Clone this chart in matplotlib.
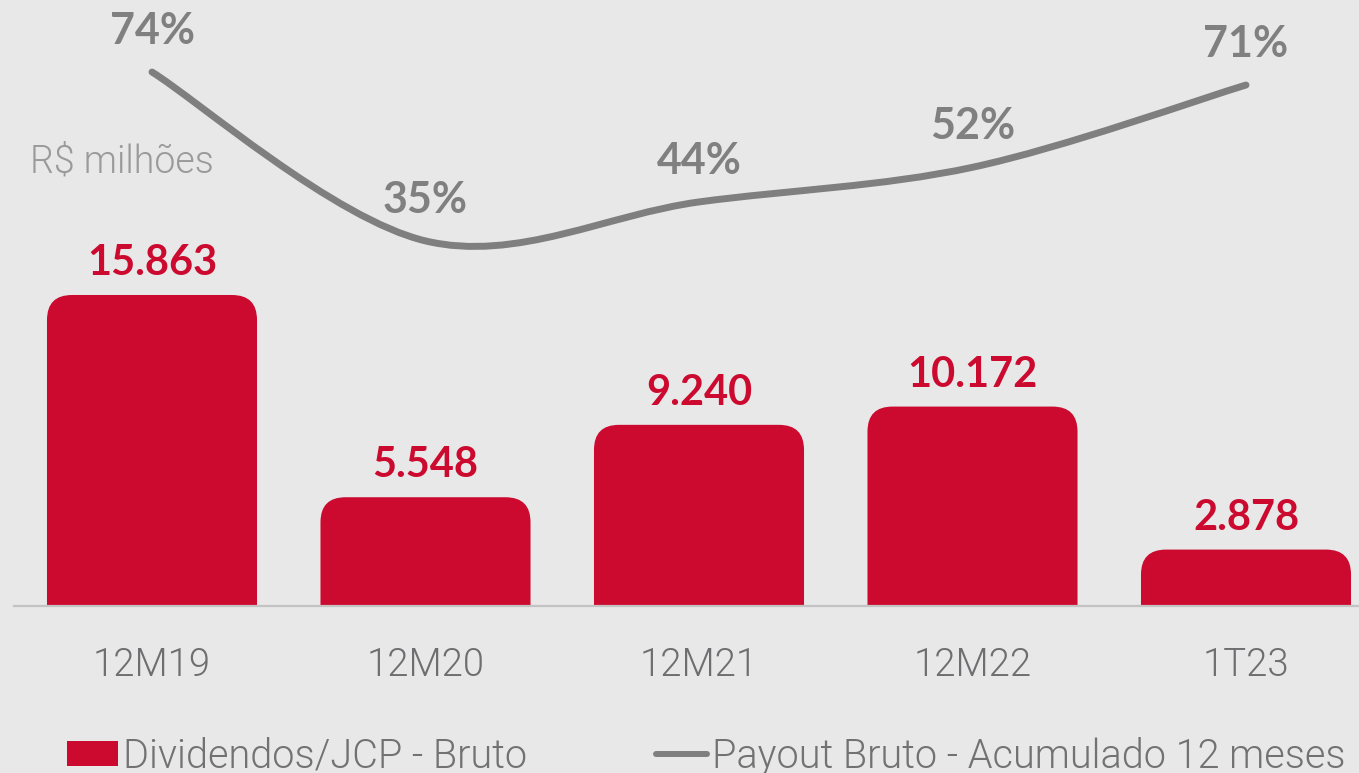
import matplotlib
matplotlib.use("Agg")
import matplotlib.pyplot as plt
from matplotlib.patches import FancyBboxPatch, PathPatch, Patch
from matplotlib.lines import Line2D
from matplotlib.path import Path
import numpy as np

categories = ["12M19", "12M20", "12M21", "12M22", "1T23"]
dividends = [15863, 5548, 9240, 10172, 2878]
dividend_labels = ["15.863", "5.548", "9.240", "10.172", "2.878"]
payout = [74, 35, 44, 52, 71]
payout_labels = ["74%", "35%", "44%", "52%", "71%"]
unit_label = "R$ milhões"
legend_bar = "Dividendos/JCP - Bruto"
legend_line = "Payout Bruto - Acumulado 12 meses"

RED = "#CC0A2F"
GRAY_LINE = "#7F7F7F"
BG = "#E8E8E8"
FONT = "Lato"
LIGHT_FONT = "Roboto"
LIGHT_W = 300

W, H = 1359, 773
fig = plt.figure(figsize=(W / 100, H / 100), dpi=100, facecolor=BG)
base_px = 606
ax = fig.add_axes([0, (H - base_px) / H, 1, base_px / H])
ax.set_facecolor(BG)

x = np.arange(len(categories))
xmin, xmax = -152 / 273.5, (W - 152) / 273.5
ymax = 30909
ax.set_xlim(xmin, xmax)
ax.set_ylim(0, ymax)

px_x = W / (xmax - xmin)
px_y = base_px / ymax
r_px = 25
rx = r_px / px_x
ry = r_px / px_y

bars = ax.bar(x, dividends, width=0.768, color=RED)
for rect in bars:
    x0, w, h = rect.get_x(), rect.get_width(), rect.get_height()
    rect.set_visible(False)
    p = FancyBboxPatch((x0, -ry), w, h + ry,
                       boxstyle=f"round,pad=0,rounding_size={rx}",
                       mutation_aspect=ry / rx, facecolor=RED,
                       edgecolor="none", clip_on=True, zorder=2)
    ax.add_patch(p)

for xi, v, lab in zip(x, dividends, dividend_labels):
    ax.annotate(lab, (xi, v), xytext=(0, 23), textcoords="offset points",
                ha="center", va="center", fontsize=30, fontweight="bold",
                color=RED, family=FONT)

for s in ["top", "left", "right"]:
    ax.spines[s].set_visible(False)
ax.spines["bottom"].set_color("#C3C3C3")
ax.spines["bottom"].set_linewidth(1.6)
ax.spines["bottom"].set_bounds(-0.505, xmax)
ax.set_yticks([])
ax.set_xticks(x)
ax.set_xticklabels(categories, fontsize=27.5, color="#6E6E70", family=LIGHT_FONT,
                   fontweight=LIGHT_W)
ax.tick_params(axis="x", length=0, pad=29.5)

# line on twin axis
ax2 = ax.twinx()
ax2.set_ylim(-49.3, 90.63)
ax2.set_xlim(xmin, xmax)
ax2.axis("off")

pts = np.column_stack([x, payout]).astype(float)
n = len(pts)
verts = [tuple(pts[0])]
codes = [Path.MOVETO]
for i in range(n - 1):
    p0 = pts[max(i - 1, 0)]
    p1 = pts[i]
    p2 = pts[i + 1]
    p3 = pts[min(i + 2, n - 1)]
    c1 = p1 + (p2 - p0) / 6
    c2 = p2 - (p3 - p1) / 6
    verts += [tuple(c1), tuple(c2), tuple(p2)]
    codes += [Path.CURVE4] * 3
path = Path(verts, codes)
ax2.add_patch(PathPatch(path, fill=False, edgecolor=GRAY_LINE, lw=5,
                        capstyle="round", joinstyle="round", zorder=3))

for xi, v, lab in zip(x, payout, payout_labels):
    ax2.annotate(lab, (xi, v), xytext=(0, 29.5), textcoords="offset points",
                 ha="center", va="center", fontsize=31, fontweight="bold",
                 color="#808080", family=FONT)

fig.text(30 / W, 1 - 162 / H, unit_label, fontsize=27, color="#9A9A9A",
         family=LIGHT_FONT, fontweight=LIGHT_W, ha="left", va="center")

# legends
h1 = Patch(facecolor=RED, edgecolor="none")
h2 = Line2D([], [], color=GRAY_LINE, lw=4.3, solid_capstyle="round")
common = dict(frameon=False, handletextpad=0.12,
              borderpad=0, borderaxespad=0, handlelength=1.3,
              handleheight=0.58, loc="center left",
              prop={"family": LIGHT_FONT, "weight": LIGHT_W, "size": 28.5})
leg1 = fig.legend([h1], [legend_bar], bbox_to_anchor=(67 / W, 1 - 756 / H),
                  **common)
leg2 = fig.legend([h2], [legend_line], bbox_to_anchor=(656 / W, 1 - 756 / H),
                  **common)
for leg in (leg1, leg2):
    for t in leg.get_texts():
        t.set_color("#727272")

fig.savefig("out.png", dpi=100, facecolor=BG)
